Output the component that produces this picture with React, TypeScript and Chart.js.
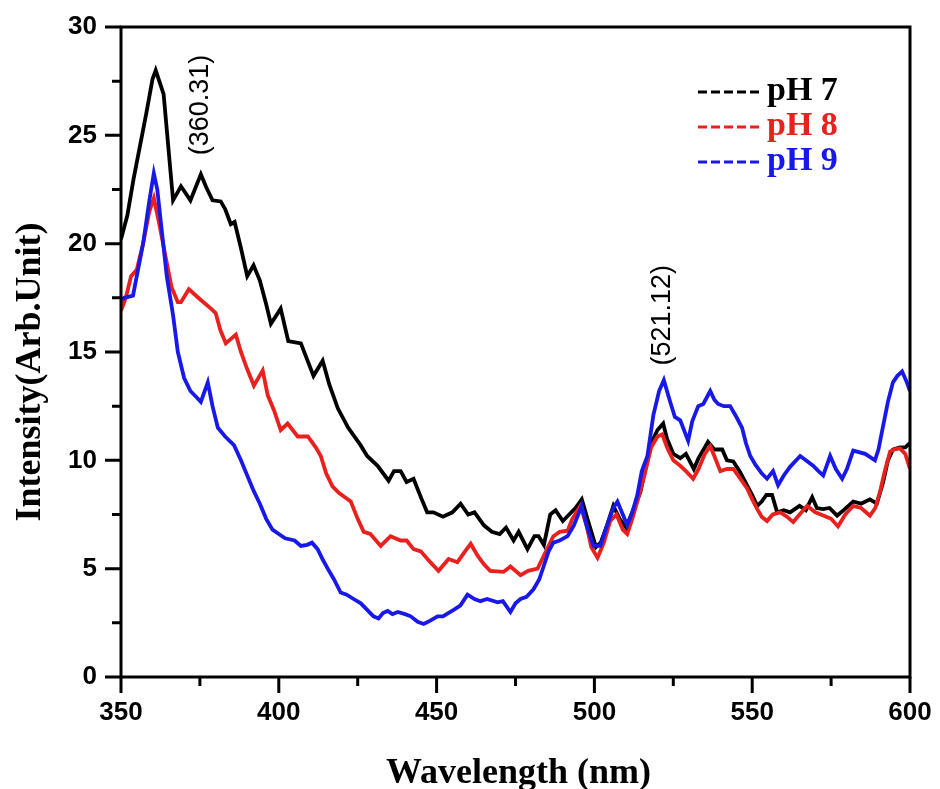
import React, { useEffect, useRef } from "react";
import { Chart, registerables } from "chart.js";

Chart.register(...registerables);

// ---------- data ----------
const ph7X = [350,352,354,356,358,360,361,363.5,366.5,369,372,375.3,377,379,381.6,383,384.8,386,388,390,392,394,396,397.5,400.6,403,407,411,413.9,416,418.7,422,425.9,428,431.3,434.8,436.5,438.6,440.5,442.7,445,447,449,452,455,457.6,460,462,465,467.5,470,472,474.4,476,478.8,481,482.3,484,486,487.7,490,492,494,496,498,500.5,502,504,506,508,510,512,514.6,516,518,520,521.8,523,525,527.2,529,531.5,533,536,538,540.5,542,544,546,547.8,550,551.6,553,554.5,556.3,557.9,560,562,565,567,569,570.5,572.5,574.5,576.9,579,582,584.5,587.3,589.5,591.5,593,594.6,596.8,598.5,600];
const ph7Y = [20.2,21.3,23.0,24.5,26.0,27.6,28.0,26.9,22.0,22.65,22.0,23.2,22.6,22.0,21.95,21.6,20.9,21.0,19.8,18.5,19.0,18.3,17.2,16.3,17.0,15.5,15.4,13.9,14.6,13.5,12.4,11.5,10.7,10.2,9.75,9.06,9.5,9.5,9.0,9.15,8.3,7.6,7.6,7.4,7.6,8.0,7.5,7.6,7.0,6.7,6.6,6.9,6.3,6.7,5.9,6.5,6.5,6.1,7.5,7.7,7.2,7.5,7.8,8.2,7.2,6.0,6.2,7.0,7.9,7.3,6.9,7.6,8.55,9.5,10.8,11.4,11.7,11.0,10.3,10.1,10.3,9.6,10.1,10.85,10.5,10.5,10.0,9.95,9.5,9.0,8.4,7.9,8.1,8.4,8.4,7.6,7.7,7.6,7.9,7.7,8.3,7.8,7.75,7.8,7.45,7.7,8.1,8.0,8.2,8.0,9.0,10.0,10.5,10.6,10.6,10.8];

const ph8X = [350,351.5,353.2,355,357,359,360.4,362,364,366,368,369,371.5,373,375.3,378.5,380,381.5,383.2,386.4,388,390,392.1,394.9,396.5,398.5,400.6,402.8,406,409.2,411.7,413.3,415,417,419,422.8,425,426.9,429,432.3,435.4,438.6,440.5,442.7,445,448,450.6,453.8,456.6,459,460.8,463,465,467,471.2,473.4,476.6,479,482,485,487,489,491.5,493,495.6,497.5,499,501,503,505,507,509,510.4,512,514,516,518,520,521.5,523,525,527.2,529,531.3,533,535,536.7,538,539.9,542,544,546,548.4,550,551.6,553,554.7,556.5,558.9,561,563,565,567.4,570,572.5,575,577.2,579.5,582,584.5,587.3,589,590.5,592,593.7,595,596.8,598.5,600];
const ph8Y = [16.9,17.5,18.5,18.8,20.0,21.5,22.1,21.0,19.5,18.0,17.3,17.3,17.9,17.7,17.4,17.0,16.8,16.0,15.4,15.8,15.0,14.2,13.45,14.15,13.0,12.3,11.4,11.7,11.1,11.1,10.6,10.2,9.4,8.8,8.5,8.1,7.3,6.7,6.6,6.05,6.5,6.3,6.3,5.9,5.8,5.3,4.9,5.45,5.3,5.8,6.15,5.6,5.2,4.9,4.85,5.1,4.7,4.9,5.0,5.9,6.5,6.7,6.75,7.3,7.9,7.0,6.0,5.5,6.2,7.2,7.5,6.8,6.6,7.3,8.3,9.4,10.6,11.1,11.2,10.6,10.0,9.75,9.5,9.15,9.6,10.3,10.65,10.2,9.5,9.6,9.6,9.2,8.7,8.2,7.75,7.4,7.2,7.5,7.6,7.4,7.15,7.5,7.9,7.6,7.45,7.3,6.95,7.5,7.9,7.8,7.45,7.8,8.55,9.5,10.4,10.5,10.55,10.3,9.6];

const ph9X = [350,351,353.8,355,357,359,360.4,361.5,363,364.5,366.5,368,370,372,374,375.3,377.5,379,380.7,383,385.8,388,390,392,394,396,398,400,402,405,407,409,410.5,412.3,414,415.5,417.5,419.6,421.5,423.7,426,428,430,431.6,433,434.5,436,437.7,440,441.8,444,445.9,448,450.3,452,455.4,457.5,459.8,462,463.9,466,469.3,471,473.4,475,476.6,478.5,480.7,482.5,483.9,485.5,487,489,491.5,493.5,496,497.5,499.7,501.9,504,506,507.3,509,510.4,512,513.6,515,516.8,518.7,520.5,522,524,525.5,527.2,529.7,531,532.9,534.5,536.7,538,539.2,541,543,545,546.8,548,549.4,551,553,554.7,556.6,558.2,560,562,565.2,567,569.3,571,572.5,574.7,576.5,578.5,580,582,585.8,588.9,590,591.5,593,594.6,596,597.5,599,600];
const ph9Y = [17.4,17.5,17.6,18.5,20.0,22.0,23.25,22.5,20.5,18.5,16.7,15.0,13.8,13.2,12.9,12.7,13.6,12.5,11.5,11.1,10.7,10.0,9.3,8.6,8.0,7.3,6.8,6.6,6.4,6.3,6.05,6.1,6.2,5.9,5.4,5.0,4.5,3.9,3.8,3.6,3.4,3.1,2.8,2.7,2.95,3.05,2.9,3.0,2.9,2.8,2.55,2.45,2.6,2.8,2.8,3.1,3.3,3.8,3.6,3.5,3.6,3.45,3.5,3.0,3.4,3.6,3.7,4.05,4.5,5.1,5.8,6.2,6.3,6.5,7.0,7.9,7.0,6.05,6.05,7.0,7.8,8.1,7.5,7.0,7.6,8.4,9.5,10.2,12.1,13.2,13.7,12.7,12.0,11.85,10.9,11.8,12.5,12.6,13.2,12.8,12.6,12.5,12.5,12.0,11.5,10.8,10.2,9.8,9.4,9.15,9.5,8.85,9.3,9.7,10.2,10.0,9.75,9.5,9.3,10.2,9.6,9.15,9.6,10.45,10.3,10.0,10.5,11.6,12.7,13.6,13.9,14.1,13.6,13.2];

const seriesLabels = ["pH 7", "pH 8", "pH 9"];
const seriesColors = ["#000000", "#e8201e", "#1818e8"];

const xTickValues = [350, 375, 400, 425, 450, 475, 500, 525, 550, 575, 600];
const xTickLabels = [350, 400, 450, 500, 550, 600];
const yTickValues = [0, 2.5, 5, 7.5, 10, 12.5, 15, 17.5, 20, 22.5, 25, 27.5, 30];
const yTickLabels = [0, 5, 10, 15, 20, 25, 30];

const peakLabels = ["(360.31)", "(521.12)"];
const peakLabelX = [375.2, 521.6];
const peakLabelY = [26.4, 16.7];

const xTitle = "Wavelength (nm)";
const yTitle = "Intensity(Arb.Unit)";

const toPoints = (xs: number[], ys: number[]) => xs.map((x, i) => ({ x, y: ys[i] }));

const decorPlugin = {
  id: "decor",
  afterDraw(chart: any) {
    const { ctx, chartArea: a, scales } = chart;
    const xs = scales.x;
    const ys = scales.y;
    ctx.save();
    // frame
    ctx.strokeStyle = "#000";
    ctx.lineWidth = 3;
    ctx.setLineDash([]);
    ctx.strokeRect(a.left, a.top, a.right - a.left, a.bottom - a.top);
    // ticks
    ctx.beginPath();
    for (const v of xTickValues) {
      const px = xs.getPixelForValue(v);
      const len = xTickLabels.includes(v) ? 16 : 9;
      ctx.moveTo(px, a.bottom);
      ctx.lineTo(px, a.bottom + len);
    }
    for (const v of yTickValues) {
      const py = ys.getPixelForValue(v);
      const len = yTickLabels.includes(v) ? 16 : 9;
      ctx.moveTo(a.left, py);
      ctx.lineTo(a.left - len, py);
    }
    ctx.stroke();

    // peak annotations
    ctx.fillStyle = "#000";
    ctx.font = "27px 'Liberation Sans', Arial, sans-serif";
    ctx.textAlign = "center";
    ctx.textBaseline = "middle";
    peakLabels.forEach((t, i) => {
      const px = xs.getPixelForValue(peakLabelX[i]);
      const py = ys.getPixelForValue(peakLabelY[i]);
      ctx.save();
      ctx.translate(px, py);
      ctx.rotate(-Math.PI / 2);
      ctx.fillText(t, 0, 0);
      ctx.restore();
    });

    // legend
    const lx0 = a.left + 577;
    const lx1 = a.left + 639;
    const tx = a.left + 646;
    seriesLabels.forEach((lab, i) => {
      const base = a.top + 73 + i * 35;
      ctx.strokeStyle = seriesColors[i];
      ctx.lineWidth = 3;
      ctx.setLineDash([9, 4]);
      ctx.beginPath();
      ctx.moveTo(lx0, base - 8);
      ctx.lineTo(lx1, base - 8);
      ctx.stroke();
      ctx.setLineDash([]);
      ctx.fillStyle = seriesColors[i];
      ctx.font = "bold 34px 'Liberation Serif', 'Times New Roman', serif";
      ctx.textAlign = "left";
      ctx.textBaseline = "alphabetic";
      ctx.fillText(lab, tx, base);
    });

    // axis titles
    ctx.fillStyle = "#000";
    ctx.font = "bold 36px 'Liberation Serif', 'Times New Roman', serif";
    ctx.textAlign = "center";
    ctx.textBaseline = "alphabetic";
    ctx.fillText(xTitle, (a.left + a.right) / 2 + 3, a.bottom + 106);
    ctx.save();
    ctx.translate(40, (a.top + a.bottom) / 2 + 20);
    ctx.rotate(-Math.PI / 2);
    ctx.fillText(yTitle, 0, 0);
    ctx.restore();
    ctx.restore();
  },
};

const zeroPad = (s: any) => {
  s.paddingTop = 0;
  s.paddingBottom = 0;
  s.paddingLeft = 0;
  s.paddingRight = 0;
};

export default function App() {
  const ref = useRef<HTMLCanvasElement | null>(null);
  useEffect(() => {
    if (!ref.current) return;
    const mk = (i: number, xs: number[], ys: number[]) => ({
      label: seriesLabels[i],
      data: toPoints(xs, ys),
      borderColor: seriesColors[i],
      backgroundColor: seriesColors[i],
      borderWidth: 3.8,
      pointRadius: 0,
      tension: 0,
      fill: false,
    });
    const chart = new Chart(ref.current, {
      type: "line",
      data: {
        datasets: [mk(2, ph9X, ph9Y), mk(1, ph8X, ph8Y), mk(0, ph7X, ph7Y)],
      },
      options: {
        animation: false,
        responsive: false,
        maintainAspectRatio: false,
        layout: { padding: { top: 27, right: 30, left: 0, bottom: 0 } },
        plugins: { legend: { display: false }, tooltip: { enabled: false } },
        scales: {
          x: {
            type: "linear",
            min: 350,
            max: 600,
            grid: { display: false, drawTicks: false },
            border: { display: false },
            ticks: {
              stepSize: 50,
              padding: 20,
              color: "#000",
              font: { family: "'Liberation Sans', Arial, sans-serif", size: 26, weight: "bold" },
              maxRotation: 0,
            },
            afterFit: (s: any) => { s.height = 112; zeroPad(s); },
          },
          y: {
            type: "linear",
            min: 0,
            max: 30,
            grid: { display: false, drawTicks: false },
            border: { display: false },
            ticks: {
              stepSize: 5,
              padding: 24,
              color: "#000",
              font: { family: "'Liberation Sans', Arial, sans-serif", size: 26, weight: "bold" },
            },
            afterFit: (s: any) => { s.width = 121; zeroPad(s); },
          },
        },
      },
      plugins: [decorPlugin],
    });
    return () => chart.destroy();
  }, []);
  return (
    <div style={{ position: "fixed", left: 0, top: 0, width: 940, height: 789, background: "#fff" }}>
      <canvas ref={ref} width={940} height={789} />
    </div>
  );
}
